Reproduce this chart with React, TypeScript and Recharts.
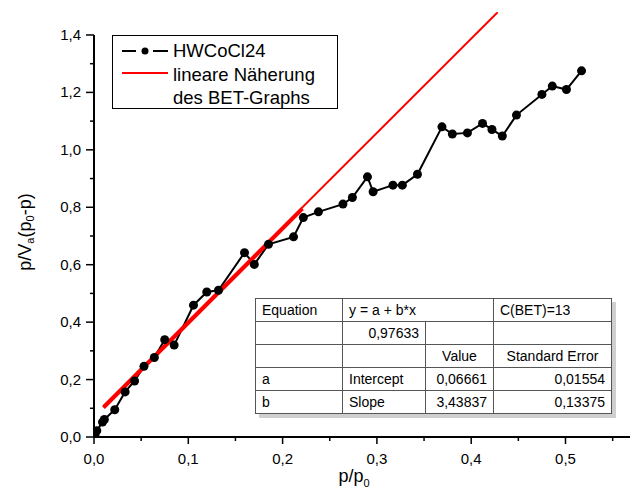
import { LineChart, Line, XAxis, YAxis, ReferenceLine, Legend, Label } from "recharts";

// HWCoCl24 BET-Auftragung
const pRel = [
  0.001, 0.003, 0.009, 0.011, 0.022, 0.033, 0.043, 0.053, 0.064, 0.075, 0.085,
  0.1055, 0.1196, 0.132, 0.1596, 0.17, 0.185, 0.2116, 0.222, 0.238, 0.264,
  0.274, 0.29, 0.296, 0.317, 0.327, 0.343, 0.369, 0.38, 0.396, 0.412, 0.422,
  0.433, 0.448, 0.475, 0.486, 0.501, 0.517,
];
const betY = [
  0.008, 0.022, 0.052, 0.061, 0.095, 0.157, 0.195, 0.246, 0.277, 0.339, 0.32,
  0.459, 0.505, 0.511, 0.642, 0.601, 0.671, 0.697, 0.764, 0.784, 0.811, 0.834,
  0.906, 0.854, 0.877, 0.877, 0.915, 1.08, 1.055, 1.059, 1.092, 1.071, 1.048,
  1.121, 1.193, 1.222, 1.21, 1.275,
];

// lineare Näherung (Endpunkte)
const fitX = [0.01, 0.428];
const fitY = [0.108, 1.479];
const fitRangeX = [0.01, 0.221];
const fitRangeY = [0.102, 0.795];

const xTicks = [0, 0.05, 0.1, 0.15, 0.2, 0.25, 0.3, 0.35, 0.4, 0.45, 0.5, 0.55];
const yTicks = [0, 0.1, 0.2, 0.3, 0.4, 0.5, 0.6, 0.7, 0.8, 0.9, 1.0, 1.1, 1.2, 1.3, 1.4];

const tableRows = [
  ["Equation", "y = a + b*x", "", "C(BET)=13"],
  ["", "0,97633", "", ""],
  ["", "", "Value", "Standard Error"],
  ["a", "Intercept", "0,06661", "0,01554"],
  ["b", "Slope", "3,43837", "0,13375"],
];

const betData = pRel.map((x, i) => ({ x, y: betY[i] }));
const fitData = fitX.map((x, i) => ({ x, y: fitY[i] }));
const fitRangeData = fitRangeX.map((x, i) => ({ x, y: fitRangeY[i] }));

const FONT = "'Liberation Sans', Arial, sans-serif";
const fmt = (v: number) => v.toFixed(1).replace(".", ",");

const XTick = (props: any) => {
  const { x, y, payload } = props;
  const v = payload.value as number;
  const major = Math.round(v * 100) % 10 === 0;
  return (
    <g>
      <line x1={x} x2={x} y1={y} y2={y + (major ? 7 : 4)} stroke="#000" strokeWidth={1.5} />
      {major && (
        <text x={x} y={y + 27} textAnchor="middle" fontSize={15} fontFamily={FONT} fill="#000">
          {fmt(v)}
        </text>
      )}
    </g>
  );
};

const YTick = (props: any) => {
  const { x, y, payload } = props;
  const v = payload.value as number;
  const major = Math.round(v * 10) % 2 === 0;
  return (
    <g>
      <line x1={x - (major ? 8 : 4)} x2={x} y1={y} y2={y} stroke="#000" strokeWidth={1.5} />
      {major && (
        <text x={x - 13} y={y + 5} textAnchor="end" fontSize={15} fontFamily={FONT} fill="#000">
          {fmt(v)}
        </text>
      )}
    </g>
  );
};

const LegendBox = () => (
  <svg width={226} height={74} style={{ display: "block" }}>
    <rect x={0.5} y={0.5} width={225} height={73} fill="#fff" stroke="#000" strokeWidth={1} />
    <line x1={10} x2={24} y1={16} y2={16} stroke="#000" strokeWidth={2} />
    <line x1={41} x2={56} y1={16} y2={16} stroke="#000" strokeWidth={2} />
    <circle cx={33} cy={16} r={3.5} fill="#000" />
    <line x1={10} x2={56} y1={38} y2={38} stroke="#ff0000" strokeWidth={2} />
    <text fontSize={18.5} fontFamily={FONT} fill="#000">
      <tspan x={61} y={22}>HWCoCl24</tspan>
      <tspan x={61} y={45.5}>lineare Näherung</tspan>
      <tspan x={61} y={69}>des BET-Graphs</tspan>
    </text>
  </svg>
);

const cellBase = {
  border: "1px solid #555",
  padding: "0 6px",
  height: 22,
  whiteSpace: "nowrap" as const,
};

const colWidths = [87, 83, 68, 118];
const align = (r: number, c: number): "left" | "right" | "center" => {
  if (r === 1 && c === 1) return "right";
  if (r >= 3 && c >= 2) return "right";
  if (r === 2) return "center";
  return "left";
};

const FitTable = () => (
  <table
    style={{
      position: "absolute",
      left: 255,
      top: 298,
      borderCollapse: "collapse",
      background: "#fff",
      fontFamily: FONT,
      fontSize: 14,
      color: "#000",
      boxShadow: "4px 4px 0 #cfcfcf",
      tableLayout: "fixed",
      width: 356,
    }}
  >
    <colgroup>
      {colWidths.map((w, i) => (
        <col key={i} style={{ width: w }} />
      ))}
    </colgroup>
    <tbody>
      {tableRows.map((row, r) => (
        <tr key={r}>
          {r === 0 ? (
            <>
              <td style={{ ...cellBase, textAlign: "left" }}>{row[0]}</td>
              <td colSpan={2} style={{ ...cellBase, textAlign: "left" }}>{row[1]}</td>
              <td style={{ ...cellBase, textAlign: "left" }}>{row[3]}</td>
            </>
          ) : (
            row.map((cell, c) => (
              <td key={c} style={{ ...cellBase, textAlign: align(r, c) }}>
                {cell}
              </td>
            ))
          )}
        </tr>
      ))}
    </tbody>
  </table>
);

export default function App() {
  return (
    <div style={{ position: "absolute", left: 0, top: 0, width: 632, height: 504, background: "#fff" }}>
      <LineChart width={632} height={504} margin={{ top: 12, right: 2, bottom: 0, left: 0 }}>
        <XAxis
          type="number"
          dataKey="x"
          domain={[0, 0.5684]}
          allowDataOverflow
          ticks={xTicks}
          interval={0}
          tickSize={0}
          tickMargin={0}
          tickLine={false}
          tick={<XTick />}
          axisLine={{ stroke: "#000", strokeWidth: 2 }}
          height={67}
        >
          <Label
            content={() => (
              <text x={354} y={482} textAnchor="middle" fontSize={18} fontFamily={FONT} fill="#000">
                p/p
                <tspan dy={5} fontSize={11}>0</tspan>
              </text>
            )}
          />
        </XAxis>
        <YAxis
          type="number"
          dataKey="y"
          domain={[0, 1.48]}
          allowDataOverflow
          ticks={yTicks}
          interval={0}
          tickSize={0}
          tickMargin={0}
          tickLine={false}
          axisLine={false}
          tick={<YTick />}
          width={94}
        >
          <Label
            content={() => (
              <text
                x={25}
                y={232}
                transform="rotate(-90, 25, 232)"
                textAnchor="middle"
                dominantBaseline="central"
                fontSize={18}
                fontFamily={FONT}
                fill="#000"
              >
                p/V
                <tspan dy={5} fontSize={11}>a</tspan>
                <tspan dy={-5}>(p</tspan>
                <tspan dy={5} fontSize={11}>0</tspan>
                <tspan dy={-5}>-p)</tspan>
              </text>
            )}
          />
        </YAxis>
        <ReferenceLine
          segment={[
            { x: 0, y: 0 },
            { x: 0, y: 1.4 },
          ]}
          stroke="#000"
          strokeWidth={2}
        />
        <Line
          data={betData}
          dataKey="y"
          type="linear"
          stroke="#000"
          strokeWidth={2}
          dot={{ r: 4.5, fill: "#000", stroke: "#000", strokeWidth: 0 }}
          activeDot={false}
          isAnimationActive={false}
        />
        <Line
          data={fitData}
          dataKey="y"
          type="linear"
          stroke="#ff0000"
          strokeWidth={2}
          dot={false}
          activeDot={false}
          isAnimationActive={false}
        />
        <Line
          data={fitRangeData}
          dataKey="y"
          type="linear"
          stroke="#ff0000"
          strokeWidth={4}
          dot={false}
          activeDot={false}
          isAnimationActive={false}
        />
        <Legend
          layout="horizontal"
          verticalAlign="middle"
          align="center"
          wrapperStyle={{ left: 112, top: 35, width: 226, height: 74 }}
          content={() => <LegendBox />}
        />
      </LineChart>
      <FitTable />
    </div>
  );
}
